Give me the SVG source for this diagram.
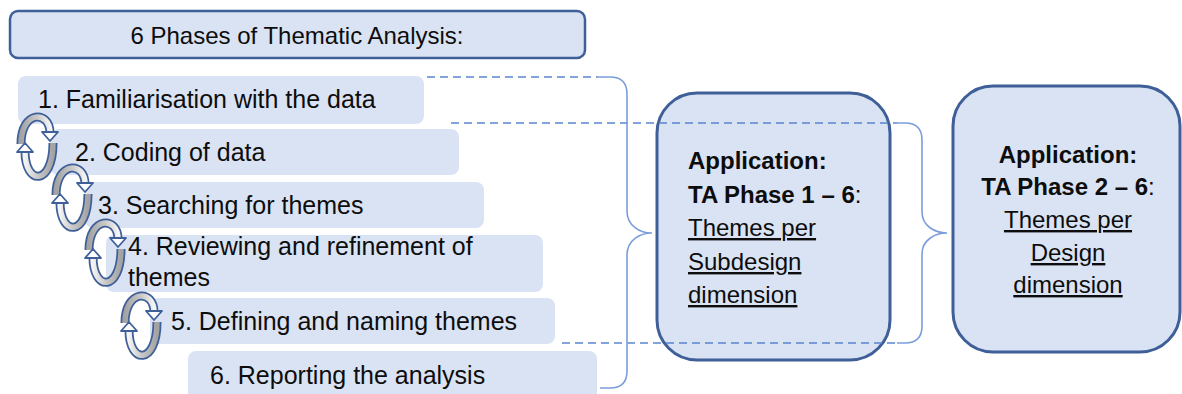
<svg xmlns="http://www.w3.org/2000/svg" width="1182" height="394" viewBox="0 0 1182 394">
  <style>
    .box { fill: #dae3f3; }
    .frame { fill: #dae3f3; stroke: #3f5f98; }
    .txt { font-family: "Liberation Sans", Arial, sans-serif; font-size: 24px; fill: #0d0d0d; }
    .ph { font-size: 25px; }
    .b { font-weight: bold; }
    .u { text-decoration: underline; }
    .dash { fill: none; stroke: #5a85cf; stroke-width: 1.4; stroke-dasharray: 8 5; }
    .brace { fill: none; stroke: #7b9edb; stroke-width: 1.6; }
    .band-o { fill: none; stroke: #3f5f98; stroke-width: 9; }
    .head { fill: #ffffff; stroke: #3f5f98; stroke-width: 1.8; stroke-linejoin: round; }
  </style>
  <defs>
    <linearGradient id="gTop" x1="0" y1="0" x2="1" y2="0">
      <stop offset="0" stop-color="#a3a3a3"/>
      <stop offset="0.55" stop-color="#c8c8c8"/>
      <stop offset="1" stop-color="#f4f4f4"/>
    </linearGradient>
    <linearGradient id="gBot" x1="1" y1="0" x2="0" y2="0">
      <stop offset="0" stop-color="#a3a3a3"/>
      <stop offset="0.55" stop-color="#c8c8c8"/>
      <stop offset="1" stop-color="#f4f4f4"/>
    </linearGradient>
    <!-- pair of curved arrows forming a cycle, centred on the origin -->
    <g id="cycle">
      <path class="band-o" d="M -16 -2 C -16 -36 13 -36 13 -13"/>
      <path d="M -16 -2 C -16 -36 13 -36 13 -13" fill="none" stroke="url(#gTop)" stroke-width="5.5"/>
      <polygon class="head" points="5,-14 21,-14 13,-5"/>
      <path class="band-o" d="M 16 -3 C 16 40 -12 40 -12 5"/>
      <path d="M 16 -3 C 16 40 -12 40 -12 5" fill="none" stroke="url(#gBot)" stroke-width="5.5"/>
      <polygon class="head" points="-20,6 -4,6 -12,-3"/>
    </g>
  </defs>

  <g id="title">
    <rect class="frame" x="10" y="11" width="575" height="47" rx="8" stroke-width="2.5"/>
    <text class="txt" x="297" y="44" text-anchor="middle" font-size="24.3">6 Phases of Thematic Analysis:</text>
  </g>

  <g id="phase1">
    <rect class="box" x="18" y="76" width="406" height="48" rx="8"/>
    <text class="txt ph" x="38" y="108">1. Familiarisation with the data</text>
  </g>
  <g id="phase2">
    <rect class="box" x="50" y="129" width="409" height="46" rx="8"/>
    <text class="txt ph" x="75" y="161">2. Coding of data</text>
  </g>
  <g id="phase3">
    <rect class="box" x="85" y="182" width="399" height="46" rx="8"/>
    <text class="txt ph" x="98" y="214">3. Searching for themes</text>
  </g>
  <g id="phase4">
    <rect class="box" x="106" y="235" width="437" height="57" rx="8"/>
    <text class="txt ph" x="128" y="255">4. Reviewing and refinement of</text>
    <text class="txt ph" x="128" y="286">themes</text>
  </g>
  <g id="phase5">
    <rect class="box" x="150" y="298" width="405" height="46" rx="8"/>
    <text class="txt ph" x="171" y="330">5. Defining and naming themes</text>
  </g>
  <g id="phase6">
    <rect class="box" x="188" y="351" width="409" height="50" rx="8"/>
    <text class="txt ph" x="210" y="384">6. Reporting the analysis</text>
  </g>

  <g id="cycles">
    <use href="#cycle" x="37" y="146"/>
    <use href="#cycle" x="72" y="197"/>
    <use href="#cycle" x="105" y="252"/>
    <use href="#cycle" x="141" y="325"/>
  </g>

  <g id="appSubdesign">
    <rect class="frame" x="657" y="93" width="233" height="267" rx="40" stroke-width="3"/>
    <text class="txt b" x="688" y="169">Application:</text>
    <text class="txt" x="688" y="203"><tspan class="b">TA Phase 1 – 6</tspan>:</text>
    <text class="txt u" x="688" y="236">Themes per</text>
    <text class="txt u" x="688" y="270">Subdesign</text>
    <text class="txt u" x="688" y="303">dimension</text>
  </g>

  <g id="appDesign">
    <rect class="frame" x="953" y="86" width="227" height="266" rx="40" stroke-width="3"/>
    <text class="txt b" x="1068" y="163" text-anchor="middle">Application:</text>
    <text class="txt" x="1068" y="195" text-anchor="middle"><tspan class="b">TA Phase 2 – 6</tspan>:</text>
    <text class="txt u" x="1068" y="228" text-anchor="middle">Themes per</text>
    <text class="txt u" x="1068" y="261" text-anchor="middle">Design</text>
    <text class="txt u" x="1068" y="293" text-anchor="middle">dimension</text>
  </g>

  <g id="connectors">
    <line class="dash" x1="427" y1="77" x2="598" y2="77"/>
    <line class="dash" x1="451" y1="123" x2="897" y2="123"/>
    <line class="dash" x1="562" y1="343" x2="897" y2="343"/>
    <path class="brace" d="M 598 77 L 610 77 Q 627 77 627 94 L 627 211 C 627 226 640 233 652 233 C 640 233 627 240 627 255 L 627 371 Q 627 388 610 388 L 600 388"/>
    <path class="brace" d="M 897 123 L 905 123 Q 922 123 922 140 L 922 212 C 922 226 935 233 947 233 C 935 233 922 240 922 254 L 922 326 Q 922 343 905 343 L 897 343"/>
  </g>
</svg>
